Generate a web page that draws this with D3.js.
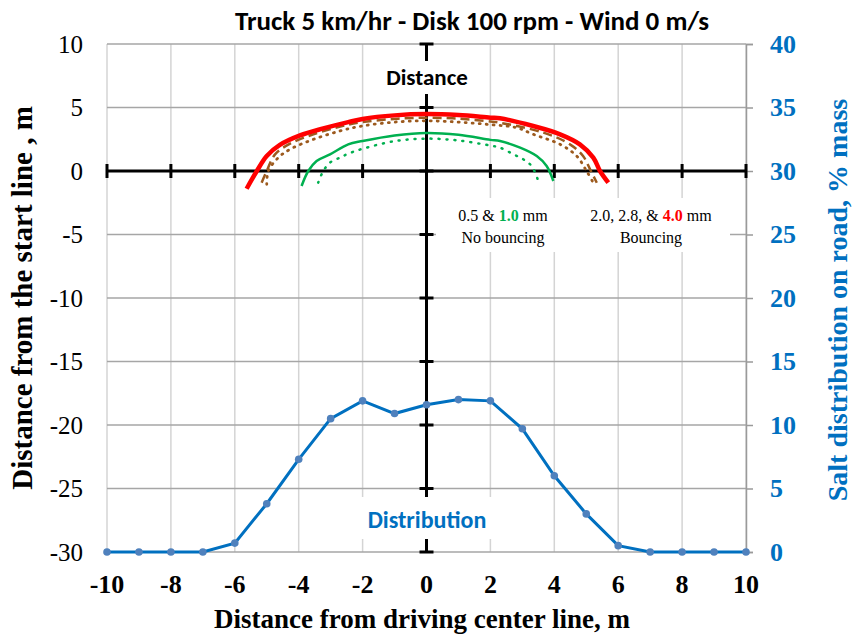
<!DOCTYPE html>
<html lang="en">
    <head>
        <meta charset="utf-8">
        <title>Truck 5 km/hr - Disk 100 rpm - Wind 0 m/s</title>
        <script type="text/javascript" src="https://cdn.jsdelivr.net/npm/d3@7/dist/d3.min.js"></script>
        <style>
            body { margin: 0; background: #fff; }
        </style>
    </head>
    <body>
        <script type="text/javascript">

            //distribution data (right axis)
            var distX = [-10, -9, -8, -7, -6, -5, -4, -3, -2, -1, 0, 1, 2, 3, 4, 5, 6, 7, 8, 9, 10];
            var distY = [0, 0, 0, 0, 0.7, 3.8, 7.3, 10.5, 11.9, 10.9, 11.6, 12.0, 11.9, 9.7, 6.0, 3.0, 0.5, 0, 0, 0, 0];

            //landing distance curves (left axis)
            var red40X = [-5.63, -5.31, -5.0, -4.59, -3.96, -3.23, -2.45, -2, -1, 0, 1, 2, 2.3, 3.34, 4.18, 4.8, 5.22, 5.43, 5.69];
            var red40Y = [-1.4, 0, 1.18, 2.05, 2.8, 3.35, 3.85, 4.1, 4.38, 4.48, 4.4, 4.2, 4.15, 3.54, 2.89, 2.1, 1.05, 0, -0.92];
            var brown28X = [-5.16, -5.0, -4.74, -4.27, -3.54, -2.7, -2, -1, 0, 1, 2, 2.3, 3.66, 4.49, 4.9, 5.12, 5.33];
            var brown28Y = [-0.92, 0, 1.31, 2.15, 2.89, 3.5, 3.85, 4.1, 4.2, 4.12, 3.9, 3.8, 3.02, 2.1, 1.18, 0.13, -0.92];
            var brown20X = [-5.0, -4.95, -4.64, -4.27, -3.54, -2.71, -2, -1, 0, 1, 2, 2.82, 3.34, 4.18, 4.7, 5.01, 5.22];
            var brown20Y = [-1.05, 0, 1.05, 1.71, 2.49, 3.15, 3.55, 3.85, 3.95, 3.85, 3.65, 3.41, 2.89, 2.1, 1.18, 0, -0.92];
            var green10X = [-3.91, -3.7, -3.44, -3.02, -2.45, -2, -1, 0, 1, 2, 2.3, 2.93, 3.45, 3.76, 3.97];
            var green10Y = [-1.18, 0, 0.79, 1.31, 2.1, 2.36, 2.8, 3.0, 2.85, 2.45, 2.36, 1.84, 1.18, 0.39, -0.79];
            var green05X = [-3.39, -3.23, -3.02, -2.71, -2.45, -2, -1, 0, 1, 2, 2.3, 2.72, 3.03, 3.29, 3.5];
            var green05Y = [-0.92, 0, 0.66, 1.05, 1.36, 1.75, 2.35, 2.55, 2.4, 2.0, 1.84, 1.31, 0.92, 0.39, -0.79];

            //tick values
            var xTicks = [-10, -8, -6, -4, -2, 0, 2, 4, 6, 8, 10];
            var leftTicks = [10, 5, 0, -5, -10, -15, -20, -25, -30];
            var rightTicks = [40, 35, 30, 25, 20, 15, 10, 5, 0];

            //width and height
            var svgWidth = 853;
            var svgHeight = 639;
            var padLeft = 107, padRight = 746, padTop = 44, padBottom = 552;

            var svg = d3.select("body")
                        .append("svg")
                        .attr("width", svgWidth)
                        .attr("height", svgHeight);

            var xScale = d3.scaleLinear().domain([-10, 10]).range([padLeft, padRight]);
            var yScale = d3.scaleLinear().domain([-30, 10]).range([padBottom, padTop]);
            var y2Scale = d3.scaleLinear().domain([0, 40]).range([padBottom, padTop]);

            //vertical gridlines
            svg.append("g")
                .selectAll("line")
                .data(xTicks)
                .enter()
                .append("line")
                .attr("x1", function(d) { return xScale(d); })
                .attr("x2", function(d) { return xScale(d); })
                .attr("y1", padTop)
                .attr("y2", padBottom)
                .attr("stroke", "#d4d4d4")
                .attr("stroke-width", 1.5);

            //horizontal gridlines
            svg.append("g")
                .selectAll("line")
                .data(leftTicks)
                .enter()
                .append("line")
                .attr("x1", padLeft)
                .attr("x2", padRight)
                .attr("y1", function(d) { return yScale(d); })
                .attr("y2", function(d) { return yScale(d); })
                .attr("stroke", "#a6a6a6")
                .attr("stroke-width", 1.5);

            var serif = "'Liberation Serif', 'Times New Roman', serif";
            var sans = "Carlito, 'Liberation Sans Narrow', 'Open Sans', sans-serif";

            //right axis (salt distribution)
            var yAxisRight = d3.axisRight(y2Scale)
                               .tickValues(rightTicks)
                               .tickSize(7)
                               .tickPadding(17);
            var R = svg.append("g")
                       .attr("transform", "translate(" + padRight + ",0)")
                       .call(yAxisRight);
            R.select(".domain").attr("stroke", "#9a9a9a").attr("stroke-width", 1.5);
            R.selectAll(".tick line").attr("stroke", "#9a9a9a").attr("stroke-width", 1.5);
            R.selectAll(".tick text")
                .attr("fill", "#0070C0")
                .attr("font-family", serif)
                .attr("font-weight", "bold")
                .attr("font-size", "26px");

            //left tick labels
            svg.append("g")
                .selectAll("text")
                .data(leftTicks)
                .enter()
                .append("text")
                .attr("x", 83)
                .attr("y", function(d) { return yScale(d); })
                .attr("dy", "0.35em")
                .attr("text-anchor", "end")
                .attr("font-family", serif)
                .attr("font-size", "25px")
                .text(function(d) { return d; });

            //bottom tick labels
            svg.append("g")
                .selectAll("text")
                .data(xTicks)
                .enter()
                .append("text")
                .attr("x", function(d) { return xScale(d); })
                .attr("y", 593)
                .attr("text-anchor", "middle")
                .attr("font-family", serif)
                .attr("font-weight", "bold")
                .attr("font-size", "26px")
                .text(function(d) { return d; });

            //center axes (black)
            var axes = svg.append("g").attr("stroke", "black").attr("stroke-width", 3);
            axes.append("line")
                .attr("x1", xScale(0)).attr("x2", xScale(0))
                .attr("y1", padTop).attr("y2", padBottom);
            axes.append("line")
                .attr("x1", padLeft).attr("x2", padRight)
                .attr("y1", yScale(0)).attr("y2", yScale(0));
            axes.selectAll(".vt")
                .data(leftTicks)
                .enter()
                .append("line")
                .attr("x1", xScale(0) - 7).attr("x2", xScale(0) + 7)
                .attr("y1", function(d) { return yScale(d); })
                .attr("y2", function(d) { return yScale(d); });
            axes.selectAll(".ht")
                .data(xTicks)
                .enter()
                .append("line")
                .attr("x1", function(d) { return xScale(d); })
                .attr("x2", function(d) { return xScale(d); })
                .attr("y1", yScale(0) - 7).attr("y2", yScale(0) + 7);

            //label boxes hide grid behind text
            svg.append("rect").attr("x", 376).attr("y", 61).attr("width", 102).attr("height", 33).attr("fill", "white");
            svg.append("rect").attr("x", 436).attr("y", 198).attr("width", 294).attr("height", 54).attr("fill", "white");
            svg.append("rect").attr("x", 358).attr("y", 497).attr("width", 140).attr("height", 42).attr("fill", "white");

            //distribution line
            var dist = distX.map(function(d, i) { return { x: d, y: distY[i] }; });
            var distLine = d3.line()
                             .x(function(d) { return xScale(d.x); })
                             .y(function(d) { return y2Scale(d.y); });
            svg.append("path")
                .datum(dist)
                .attr("d", distLine)
                .attr("fill", "none")
                .attr("stroke", "#0070C0")
                .attr("stroke-width", 3);
            svg.selectAll(".dot")
                .data(dist)
                .enter()
                .append("circle")
                .attr("cx", function(d) { return xScale(d.x); })
                .attr("cy", function(d) { return y2Scale(d.y); })
                .attr("r", 3.8)
                .attr("fill", "#4F81BD");

            //distance curves
            var curveLine = d3.line()
                              .x(function(d) { return xScale(d.x); })
                              .y(function(d) { return yScale(d.y); })
                              .curve(d3.curveCatmullRom);
            function pairs(xs, ys) {
                return xs.map(function(d, i) { return { x: d, y: ys[i] }; });
            }
            var curves = [
                { pts: pairs(green05X, green05Y), color: "#00B050", w: 2.5, dash: "1,7", cap: "round" },
                { pts: pairs(green10X, green10Y), color: "#00B050", w: 2.5, dash: null, cap: "butt" },
                { pts: pairs(brown20X, brown20Y), color: "#9C5A1E", w: 2.8, dash: "1,6", cap: "round" },
                { pts: pairs(brown28X, brown28Y), color: "#9C5A1E", w: 2.5, dash: "9,5", cap: "butt" },
                { pts: pairs(red40X, red40Y), color: "#FF0000", w: 4.5, dash: null, cap: "butt" }
            ];
            curves.forEach(function(c) {
                svg.append("path")
                    .datum(c.pts)
                    .attr("d", curveLine)
                    .attr("fill", "none")
                    .attr("stroke", c.color)
                    .attr("stroke-width", c.w)
                    .attr("stroke-linecap", c.cap)
                    .attr("stroke-dasharray", c.dash);
            });

            //title and in-chart labels
            svg.append("text")
                .attr("x", 472)
                .attr("y", 30)
                .attr("text-anchor", "middle")
                .attr("font-family", sans)
                .attr("font-weight", "bold")
                .attr("font-size", "27px")
                .text("Truck 5 km/hr - Disk 100 rpm - Wind 0 m/s");

            svg.append("text")
                .attr("x", 427)
                .attr("y", 85)
                .attr("text-anchor", "middle")
                .attr("font-family", sans)
                .attr("font-weight", "bold")
                .attr("font-size", "23px")
                .text("Distance");

            svg.append("text")
                .attr("x", 427)
                .attr("y", 528)
                .attr("text-anchor", "middle")
                .attr("font-family", sans)
                .attr("font-weight", "bold")
                .attr("font-size", "24px")
                .attr("fill", "#0070C0")
                .text("Distribution");

            var t1 = svg.append("text")
                .attr("x", 503).attr("y", 221)
                .attr("text-anchor", "middle")
                .attr("font-family", serif).attr("font-size", "16px");
            t1.append("tspan").text("0.5 & ");
            t1.append("tspan").attr("fill", "#00B050").attr("font-weight", "bold").text("1.0");
            t1.append("tspan").text(" mm");
            svg.append("text")
                .attr("x", 503).attr("y", 243)
                .attr("text-anchor", "middle")
                .attr("font-family", serif).attr("font-size", "16px")
                .text("No bouncing");

            var t2 = svg.append("text")
                .attr("x", 651).attr("y", 221)
                .attr("text-anchor", "middle")
                .attr("font-family", serif).attr("font-size", "16px");
            t2.append("tspan").text("2.0, 2.8, & ");
            t2.append("tspan").attr("fill", "#FF0000").attr("font-weight", "bold").text("4.0");
            t2.append("tspan").text(" mm");
            svg.append("text")
                .attr("x", 651).attr("y", 243)
                .attr("text-anchor", "middle")
                .attr("font-family", serif).attr("font-size", "16px")
                .text("Bouncing");

            //axis titles
            svg.append("text")
                .attr("x", 422)
                .attr("y", 628)
                .attr("text-anchor", "middle")
                .attr("font-family", serif)
                .attr("font-weight", "bold")
                .attr("font-size", "27px")
                .text("Distance from driving center line, m");

            svg.append("text")
                .attr("transform", "translate(32,298) rotate(-90)")
                .attr("text-anchor", "middle")
                .attr("font-family", serif)
                .attr("font-weight", "bold")
                .attr("font-size", "29px")
                .text("Distance from the start line , m");

            svg.append("text")
                .attr("transform", "translate(847,300) rotate(-90)")
                .attr("text-anchor", "middle")
                .attr("font-family", serif)
                .attr("font-weight", "bold")
                .attr("font-size", "28px")
                .attr("fill", "#0070C0")
                .text("Salt distribution on road, % mass");

        </script>
    </body>
</html>
